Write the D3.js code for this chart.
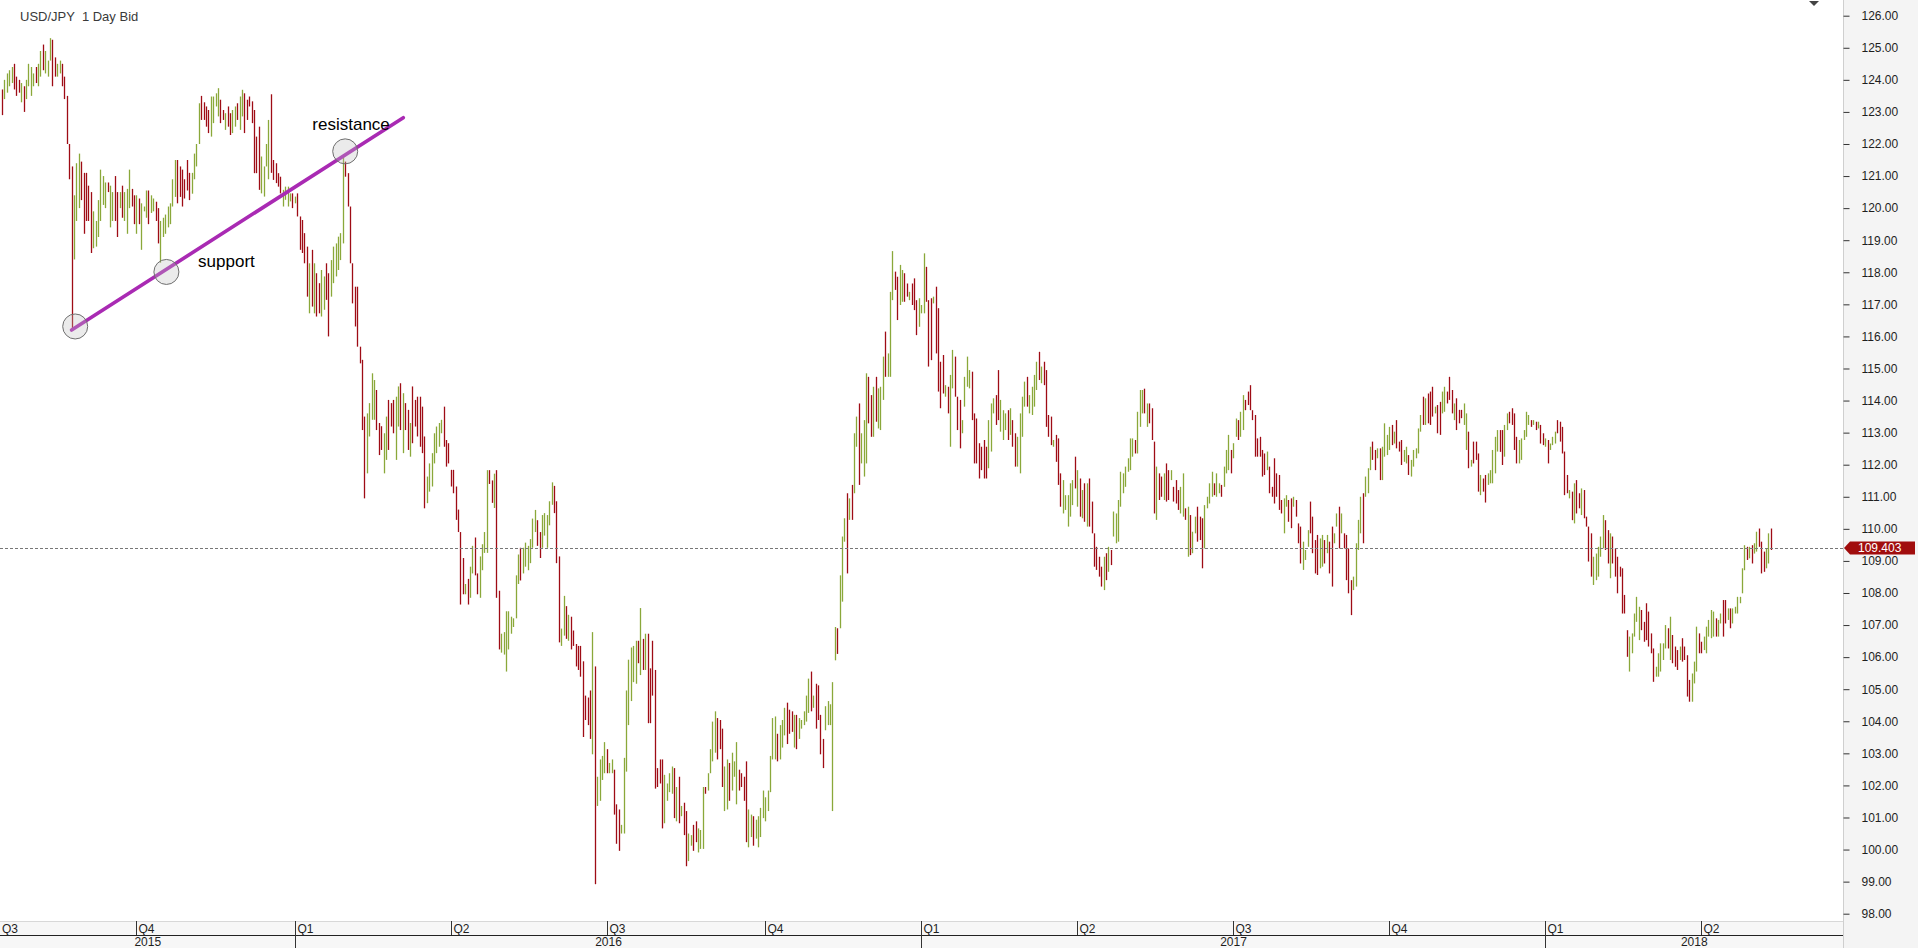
<!DOCTYPE html>
<html><head><meta charset="utf-8">
<script src="https://cdn.jsdelivr.net/npm/d3@7"></script>
<style>html,body{margin:0;padding:0;background:#fff;overflow:hidden}</style>
</head><body>
<svg id="chart" width="1918" height="948"></svg>
<script>
// ---- data (daily bid high / low, USD/JPY, mid-Jul 2015 .. May 2018) ----
const highs = [
123.7,124.0,124.2,124.3,124.4,124.5,124.1,124.0,123.9,123.8,
124.0,124.5,124.4,124.2,124.4,124.5,124.9,125.1,124.9,124.6,
125.3,125.25,124.7,124.5,124.6,124.5,124.1,123.5,122.0,121.3,
120.4,121.4,121.7,121.45,121.1,121.1,120.7,120.5,119.9,119.6,
120.25,121.2,121.0,120.8,120.8,120.7,120.5,121.0,120.5,120.5,
120.7,120.5,120.6,121.2,120.6,120.4,120.4,120.3,120.15,120.05,
120.55,120.55,120.4,120.3,120.2,120.0,119.6,119.7,119.8,120.05,
120.15,120.9,121.5,121.5,121.3,121.2,120.9,121.5,121.1,121.1,
121.7,122.0,123.27,123.5,123.3,123.17,123.06,123.48,123.48,123.58,
123.74,123.38,123.06,122.96,123.17,122.96,123.06,123.17,123.27,123.48,
123.69,123.58,123.38,123.48,123.33,123.06,122.23,122.54,121.61,121.3,
122.0,122.75,123.55,121.5,121.4,121.09,120.98,120.57,120.67,120.67,
120.46,120.46,120.36,120.46,119.74,119.63,119.22,118.8,118.28,118.7,
118.28,117.97,117.66,118.07,117.87,118.28,117.97,118.38,118.8,118.9,
119.11,119.22,121.6,121.45,121.09,120.05,118.28,117.55,117.55,115.68,
115.27,113.5,113.6,113.92,114.85,114.64,114.33,113.3,113.2,112.98,
113.5,114.02,113.92,114.02,114.12,114.44,114.54,114.23,113.92,113.71,
113.3,114.44,114.02,114.12,114.12,113.81,112.88,111.63,112.04,112.36,
112.98,113.19,113.3,113.4,113.81,112.77,112.67,111.84,111.84,111.32,
110.6,109.9,109.09,108.28,108.44,108.82,109.47,109.73,108.61,109.14,
109.52,109.9,111.83,111.83,111.51,111.72,111.83,108.07,106.73,106.78,
107.43,107.43,107.26,107.21,108.55,109.2,109.41,109.41,109.57,109.47,
109.68,110.32,110.59,110.27,109.9,110.43,110.49,110.43,110.86,111.45,
111.34,110.86,109.14,106.89,107.91,107.59,107.32,107.26,106.83,106.41,
106.35,106.35,105.87,104.8,104.74,104.96,106.78,105.71,102.27,102.81,
102.92,103.35,103.13,102.7,102.81,102.49,101.41,101.25,100.77,102.86,
104.96,105.92,106.3,106.35,106.51,106.51,107.53,106.57,106.73,106.73,
105.65,106.51,105.6,102.54,102.81,102.81,102.33,102.06,102.38,102.59,
102.54,101.95,102.27,101.36,101.46,101.2,100.5,100.45,100.77,100.88,
100.66,100.61,101.95,101.95,102.38,103.13,103.99,104.31,104.1,104.04,
103.77,102.59,102.81,102.7,103.02,102.75,103.35,102.49,102.38,102.27,
102.75,101.25,101.09,101.04,100.93,101.04,101.3,101.84,101.63,101.84,
102.92,104.1,104.15,103.61,103.88,104.04,104.42,104.58,104.36,104.31,
104.2,104.2,104.1,104.04,104.31,104.8,105.33,105.55,104.8,105.17,
105.12,104.2,103.45,104.47,104.63,104.53,105.22,106.94,106.9,108.55,
109.76,110.33,111.11,110.95,111.37,112.98,113.5,113.91,112.98,113.39,
114.85,114.74,114.17,114.43,114.74,114.38,114.43,115.37,116.15,115.47,
117.39,118.66,118.02,117.86,118.23,118.07,117.97,117.65,117.39,117.65,
117.81,117.13,117.19,116.98,118.59,118.17,117.13,117.19,117.24,117.55,
116.88,115.21,115.42,114.48,114.43,114.8,115.58,115.37,114.12,114.02,
113.39,114.74,115.37,114.95,114.9,113.6,113.44,112.67,112.56,112.77,
112.56,113.39,113.91,114.07,114.17,114.95,114.02,113.7,113.6,113.7,
113.76,113.39,112.98,112.87,113.6,114.12,114.59,114.74,114.17,114.43,
114.8,115.21,115.52,115.06,115.21,114.95,113.55,113.5,112.77,112.93,
112.82,111.73,111.52,111.05,111.05,111.42,111.52,112.25,111.83,111.57,
111.21,111.42,111.42,111.57,110.85,109.86,109.44,109.13,108.82,109.13,
109.24,109.44,109.34,110.54,110.48,110.9,111.78,111.73,111.94,112.2,
112.82,112.82,112.77,113.65,114.33,114.33,114.37,113.91,113.91,113.76,
112.72,111.94,111.73,111.63,111.73,112.04,111.83,111.83,111.31,111.52,
111.21,111.31,111.73,110.64,110.69,110.43,109.91,110.38,110.69,110.38,
110.33,110.74,111.0,111.42,111.78,111.42,111.73,111.42,111.37,111.94,
112.46,112.93,112.46,112.67,113.44,113.39,113.65,114.17,114.02,114.28,
114.48,113.7,113.55,112.82,112.87,112.46,112.35,112.41,111.94,111.31,
112.2,111.73,111.68,110.9,110.95,111.05,110.9,110.95,111.0,110.9,
110.17,110.07,109.6,109.34,109.96,110.85,110.38,109.65,109.81,109.7,
109.81,109.65,109.81,109.6,110.07,109.86,110.48,110.69,110.48,109.86,
109.81,109.39,108.4,108.51,109.55,110.28,111.0,111.11,111.63,111.89,
112.56,112.72,112.46,112.51,112.51,112.56,113.29,112.93,113.18,113.24,
113.03,113.39,112.72,112.77,112.46,112.56,112.3,112.15,112.46,112.51,
113.13,113.55,114.12,114.07,114.22,114.28,114.43,113.81,113.86,113.96,
114.28,114.43,114.28,114.74,114.33,113.91,114.07,113.71,113.71,113.91,
113.6,113.03,112.15,112.72,112.72,112.35,111.68,111.57,111.68,111.73,
111.83,112.46,112.87,113.08,113.08,113.08,113.24,113.6,113.65,113.76,
113.6,112.87,112.77,112.82,113.08,113.65,113.55,113.39,113.39,113.34,
113.34,113.24,112.98,112.82,112.77,112.66,112.87,113.03,113.39,113.34,
113.18,112.41,111.68,111.21,111.16,111.42,111.52,111.11,111.26,111.21,
110.38,110.07,109.86,109.13,109.23,109.44,109.76,110.43,110.27,109.96,
109.86,109.76,109.39,109.13,108.82,108.77,107.94,106.84,106.64,106.74,
107.36,107.88,107.57,107.47,107.1,107.68,107.42,106.74,106.27,105.7,
106.12,106.43,106.43,107.0,106.9,107.26,106.69,106.33,106.22,106.33,
106.59,106.33,106.06,105.29,105.49,105.86,106.95,106.74,106.48,106.64,
106.95,107.16,107.47,107.42,107.21,107.16,107.36,107.78,107.78,107.52,
107.52,107.52,107.57,107.88,107.88,108.77,109.49,109.44,109.44,109.49,
109.55,109.91,110.01,109.6,109.29,109.39,109.86,110.01
];
const lows = [
122.9,123.4,123.6,123.8,123.9,123.7,123.5,123.6,123.3,123.0,
123.4,123.8,123.5,123.8,123.9,123.8,124.1,124.3,124.2,124.1,
124.6,123.8,124.1,124.1,124.2,123.8,123.4,122.0,120.9,116.2,
118.4,119.6,120.0,120.25,119.2,119.6,119.6,118.6,118.75,118.8,
119.1,119.6,120.1,120.0,120.5,119.4,119.6,119.6,119.1,120.0,
119.7,119.6,119.2,120.0,120.05,119.5,119.2,119.5,118.7,119.9,
119.7,119.5,119.85,119.9,119.6,118.9,118.3,119.1,119.2,119.4,
119.5,120.05,120.35,120.15,120.35,120.05,120.3,120.55,120.25,120.45,
120.9,121.3,122.0,122.75,122.75,122.54,122.34,122.23,122.65,123.17,
122.86,122.65,122.75,122.44,122.54,122.28,122.34,122.54,122.75,122.44,
122.86,122.34,122.75,123.17,122.65,121.09,121.09,120.57,120.46,120.36,
121.3,120.9,121.1,120.88,120.78,120.67,120.46,120.05,120.26,120.05,
120.21,120.0,120.15,119.74,118.7,118.6,118.28,117.24,116.72,116.93,
116.72,116.62,116.72,116.62,116.83,117.14,116.0,117.24,117.66,117.87,
118.07,118.38,118.9,120.98,120.05,118.28,117.03,116.31,115.68,115.16,
113.08,110.95,111.73,112.88,113.4,113.4,113.08,112.3,112.46,111.73,
112.15,112.46,113.19,112.98,112.15,113.19,113.08,112.36,113.08,112.46,
112.25,112.67,113.19,112.88,112.56,112.36,110.64,110.8,111.16,111.32,
112.04,112.36,112.56,112.98,112.56,111.94,112.04,111.32,111.11,110.28,
109.9,107.64,107.96,107.96,107.64,107.85,108.61,108.55,107.96,107.85,
108.71,109.25,109.25,111.4,110.81,110.65,107.85,106.24,106.14,106.08,
105.55,106.24,106.73,106.94,107.21,108.28,108.39,108.61,108.82,108.71,
108.93,109.41,109.9,109.47,109.09,109.41,109.79,109.41,110.11,110.75,
110.49,108.93,106.46,106.35,106.67,106.57,106.51,106.24,106.35,105.71,
105.6,105.39,103.51,104.04,103.88,103.45,102.97,98.92,101.36,101.52,
102.17,102.38,102.38,102.38,102.38,101.09,100.18,99.96,100.5,100.5,
102.43,103.88,104.63,105.22,105.17,105.81,105.44,105.6,105.6,103.94,
103.94,104.8,101.9,101.95,102.06,100.66,100.82,101.52,101.79,101.74,
100.98,100.88,100.82,101.04,100.45,99.48,99.64,100.12,99.96,100.23,
99.91,100.02,100.02,101.74,101.84,102.38,102.75,103.02,102.81,103.13,
101.95,101.2,101.25,101.52,101.84,102.27,101.41,101.84,101.95,101.52,
100.23,100.07,100.39,100.12,100.34,100.07,100.39,100.98,100.88,101.2,
101.79,102.81,102.81,102.75,102.81,103.18,103.56,103.29,103.61,103.67,
103.18,103.13,103.45,103.77,103.88,103.99,104.26,104.31,104.42,103.77,
104.04,102.97,102.54,103.72,103.88,103.88,101.2,105.9,106.1,106.9,
107.73,109.6,108.61,110.28,110.28,111.11,112.56,111.37,112.04,111.63,
112.04,113.29,112.87,112.87,113.34,113.13,113.08,114.02,114.74,114.74,
114.74,117.13,117.45,116.51,116.98,117.08,117.08,117.24,117.13,116.98,
116.82,116.04,116.3,116.72,116.72,117.08,115.06,115.26,117.03,115.47,
114.28,113.76,114.22,114.12,113.6,112.56,114.38,114.12,113.08,112.51,
112.98,113.81,114.43,114.38,113.39,112.04,112.04,111.57,111.83,111.57,
111.57,111.89,112.41,113.6,113.24,113.39,113.03,112.77,113.08,112.77,
112.93,112.56,111.94,111.94,111.73,112.87,113.81,113.81,113.6,113.55,
113.81,114.33,114.64,114.54,114.48,113.18,112.87,112.61,112.56,112.09,
111.37,110.69,110.48,110.59,110.07,110.38,110.74,111.26,110.69,110.38,
110.33,110.22,110.07,110.07,109.86,108.82,108.72,108.51,108.2,108.09,
108.4,108.66,108.87,109.76,109.55,109.6,110.69,111.11,111.31,111.78,
111.83,112.25,112.35,112.35,113.18,113.6,113.6,113.18,113.29,112.77,
110.48,110.28,110.9,111.0,110.9,110.85,110.9,111.52,110.85,110.79,
110.59,110.48,110.38,110.28,109.13,109.18,109.24,109.86,109.6,109.65,
108.77,109.39,110.64,110.79,111.0,111.05,111.0,111.11,111.0,111.31,
111.73,111.83,111.73,112.2,112.87,112.77,112.87,113.08,113.7,113.86,
113.7,113.39,112.25,112.25,112.25,111.63,111.68,111.83,111.11,111.0,
110.79,111.0,110.59,110.48,109.86,110.69,110.22,110.02,110.69,110.38,
109.55,108.92,108.72,109.03,109.44,109.86,109.24,108.61,108.56,108.77,
108.82,108.92,109.24,108.61,108.2,109.55,110.07,109.39,109.86,109.39,
108.4,107.99,107.31,108.09,108.2,109.34,109.86,109.55,111.0,111.11,
111.83,112.15,111.83,112.2,111.52,111.52,112.25,112.3,112.46,112.61,
112.66,112.51,112.41,111.99,112.09,112.04,111.68,111.63,111.94,112.2,
112.35,113.03,113.24,113.24,113.29,113.24,113.5,113.6,112.98,112.93,
113.6,113.65,113.91,114.02,113.6,113.39,113.08,113.29,113.45,113.24,
112.46,111.89,111.94,112.04,112.15,111.16,111.05,111.16,110.82,111.37,
111.42,111.42,111.73,112.41,112.4,111.99,112.25,113.08,113.29,113.24,
112.46,112.04,112.04,112.15,112.77,112.87,113.24,113.18,113.24,113.08,
113.13,112.66,112.61,112.56,112.04,112.46,112.61,112.66,112.98,112.72,
112.35,111.05,111.11,110.95,110.27,110.17,110.48,110.64,110.43,110.33,
110.07,108.98,108.51,108.25,108.4,108.51,109.13,109.39,109.34,108.92,
108.46,108.92,108.51,107.99,108.51,107.36,107.36,106.01,105.55,106.12,
106.64,107.1,106.53,106.84,106.48,106.53,106.33,106.12,105.23,105.39,
105.39,105.55,105.91,106.27,106.27,105.91,105.81,105.7,105.6,105.91,
105.86,105.91,104.77,104.61,104.61,105.18,105.55,106.12,106.12,106.22,
106.12,106.64,106.59,106.64,106.64,106.64,107.05,106.64,107.05,107.16,
106.9,107.05,107.36,107.36,107.68,107.99,108.71,109.03,109.08,108.92,
109.23,109.29,109.44,108.61,108.66,108.77,108.92,109.34
];
// u = bar closed up (green), d = closed down (red)
const dirs = (
"duuuudddud"+"uuuuduuduu"+"udduuddddd"+"uuuddddduu"+"uuuuduuddu"+
"duuudduduu"+"uduudduuuu"+"uuuddddddu"+"uuudddduuu"+"uddudduudu"+
"uddddddduu"+"uuddddduuu"+"ududddddud"+"udduudduuu"+"uuuddddddd"+
"dduuuudddu"+"uddduududd"+"udddddduuu"+"uuuudddddd"+"ddduduuddu"+
"uuuddudduu"+"uuuuuuduuu"+"uuudduuuuu"+"ddduududdd"+"dddddduduu"+
"uuduuddduu"+"uuuuududud"+"dddddduuuu"+"dududduudd"+"uuuduuuudd"+
"duuduuuddd"+"duuduuuuuu"+"uuuduuuddd"+"uduuuuudud"+"ddduuuuudu"+
"uududuuduu"+"udduduuudu"+"uudduuddud"+"dduuudddud"+"ddduduuddd"+
"uuuudddddd"+"duuudduuud"+"udduuuuduu"+"uududdddud"+"dduuuuudud"+
"ududdddddu"+"duduuuuuuu"+"uuduuududd"+"dudduddudd"+"duududuudd"+
"duuuuduudu"+"uuduuduudd"+"dddddddudd"+"dddduuddud"+"dduuuddddu"+
"ududduudud"+"ddduuuuduu"+"udduduuuud"+"uddduuduuu"+"uududddudd"+
"uudddudddu"+"ududdduddu"+"uuuudduudd"+"dduuuuudud"+"udduduuudd"+
"dddududdud"+"ddduuuuudd"+"uddddddduu"+"uuuddddddu"+"uuuududddu"+
"dddduuuddu"+"uuuuduuddu"+"duuuuuudud"+"uuddduud"
).split('');

const priceTicks = [98,99,100,101,102,103,104,105,106,107,108,109,110,111,112,113,114,115,116,117,118,119,120,121,122,123,124,125,126];
const quarterLabels = ['Q3','Q4','Q1','Q2','Q3','Q4','Q1','Q2','Q3','Q4','Q1','Q2'];
const quarterStart  = [0,56,122,187,252,318,383,448,513,578,643,708];
const yearLabels = ['2015','2016','2017','2018'];
const yearStart  = [0,122,383,643];
const lastPrice = 109.403;
const trendLine = [{i:29,p:116.2},{i:167.2,p:122.82}];
const circles = [{i:30.5,p:116.31},{i:68.5,p:118.01},{i:143,p:121.77}];
const notes = [{text:'support',i:81.7,p:118.16},{text:'resistance',i:129.3,p:122.44}];
const title = 'USD/JPY  1 Day Bid';

// ---- layout ----
const W = 1918, H = 948, plotRight = 1843, axisTop = 921, yearRow = 935;
const FONT = "'Liberation Sans', Arial, sans-serif";
const svg = d3.select('#chart');
const x = d3.scaleLinear().domain([0, 737]).range([2, 1770.8]);
const y = d3.scaleLinear().domain([98, 126]).range([913.7, 15.7]);

svg.append('rect').attr('width', W).attr('height', H).attr('fill', '#fff');

// right price panel
svg.append('rect').attr('x', plotRight).attr('y', 0).attr('width', W - plotRight).attr('height', H).attr('fill', '#f4f4f4');
svg.append('line').attr('x1', plotRight + 0.5).attr('x2', plotRight + 0.5).attr('y1', 0).attr('y2', H)
  .attr('stroke', '#cfcfcf');

// bottom time band
svg.append('rect').attr('x', 0).attr('y', axisTop).attr('width', plotRight).attr('height', H - axisTop).attr('fill', '#f7f7f7');
svg.append('line').attr('x1', 0).attr('x2', plotRight).attr('y1', axisTop + 0.5).attr('y2', axisTop + 0.5).attr('stroke', '#d8d8d8');

// bars
const bars = highs.map((h, i) => ({ i, h, l: lows[i], up: dirs[i] === 'u' }));
svg.append('g').selectAll('line').data(bars).join('line')
  .attr('x1', d => Math.round(x(d.i)) + 0.5).attr('x2', d => Math.round(x(d.i)) + 0.5)
  .attr('y1', d => y(d.h)).attr('y2', d => Math.max(y(d.l), y(d.h) + 1.5))
  .attr('stroke', d => d.up ? '#8aa83a' : '#9e0c15')
  .attr('stroke-width', 1.3);

// last price dotted line
svg.append('line').attr('x1', 0).attr('x2', plotRight)
  .attr('y1', Math.round(y(lastPrice)) + 0.5).attr('y2', Math.round(y(lastPrice)) + 0.5)
  .attr('stroke', '#777').attr('stroke-dasharray', '3,2');

// annotations
svg.append('line')
  .attr('x1', x(trendLine[0].i)).attr('y1', y(trendLine[0].p))
  .attr('x2', x(trendLine[1].i)).attr('y2', y(trendLine[1].p))
  .attr('stroke', '#a92ab3').attr('stroke-width', 3.6).attr('stroke-linecap', 'round');
svg.append('g').selectAll('circle').data(circles).join('circle')
  .attr('cx', d => x(d.i)).attr('cy', d => y(d.p)).attr('r', 12.5)
  .attr('fill', 'rgba(190,190,190,0.3)').attr('stroke', '#6e6e6e').attr('stroke-width', 1);
svg.append('g').selectAll('text').data(notes).join('text')
  .attr('x', d => x(d.i)).attr('y', d => y(d.p))
  .attr('font-family', FONT).attr('font-size', 17).attr('fill', '#000')
  .text(d => d.text);

// right axis
const yAxis = d3.axisRight(y).tickValues(priceTicks).tickSize(6).tickPadding(12).tickFormat(d3.format('.2f'));
const gy = svg.append('g').attr('transform', `translate(${plotRight + 0.5},0)`).call(yAxis);
gy.select('.domain').remove();
gy.selectAll('line').attr('stroke', '#333');
gy.selectAll('text').attr('font-family', FONT).attr('font-size', 12).attr('fill', '#1e1e1e');

// last price tag
const ly = y(lastPrice);
const tag = svg.append('g');
tag.append('path')
  .attr('d', `M${plotRight + 1},${ly} L${plotRight + 7},${ly - 6.5} L${W - 3},${ly - 6.5} L${W - 3},${ly + 6.5} L${plotRight + 7},${ly + 6.5} Z`)
  .attr('fill', '#a10d0d');
tag.append('text').attr('x', 1858).attr('y', ly).attr('dy', '0.36em')
  .attr('font-family', FONT).attr('font-size', 12).attr('fill', '#fff')
  .text(lastPrice.toFixed(3));

// bottom axis: quarters
const qPos = quarterStart.map((s, k) => k === 0 ? 0 : Math.round(x(s)) + 0.5);
const gq = svg.append('g');
gq.selectAll('line').data(qPos.slice(1)).join('line')
  .attr('x1', d => d).attr('x2', d => d).attr('y1', axisTop).attr('y2', yearRow)
  .attr('stroke', '#333');
gq.selectAll('text').data(quarterLabels).join('text')
  .attr('x', (d, k) => qPos[k] + 2).attr('y', 933)
  .attr('font-family', FONT).attr('font-size', 12).attr('fill', '#1e1e1e')
  .text(d => d);
svg.append('line').attr('x1', 0).attr('x2', plotRight).attr('y1', yearRow + 0.5).attr('y2', yearRow + 0.5)
  .attr('stroke', '#222');

// bottom axis: years
const yPos = yearStart.map((s, k) => k === 0 ? 0 : Math.round(x(s)) + 0.5);
const gyear = svg.append('g');
gyear.selectAll('line').data(yPos.slice(1)).join('line')
  .attr('x1', d => d).attr('x2', d => d).attr('y1', yearRow).attr('y2', H)
  .attr('stroke', '#333');
gyear.selectAll('text').data(yearLabels).join('text')
  .attr('x', (d, k) => (yPos[k] + (k + 1 < yPos.length ? yPos[k + 1] : plotRight)) / 2)
  .attr('y', 946).attr('text-anchor', 'middle')
  .attr('font-family', FONT).attr('font-size', 12).attr('fill', '#1e1e1e')
  .text(d => d);

// title and menu marker
svg.append('text').attr('x', 20).attr('y', 21).attr('xml:space', 'preserve').style('white-space', 'pre')
  .attr('font-family', FONT).attr('font-size', 13).attr('fill', '#3a3a3a').text(title);
svg.append('path').attr('d', 'M1809,1 L1819,1 L1814,6 Z').attr('fill', '#444');
</script>
</body></html>
